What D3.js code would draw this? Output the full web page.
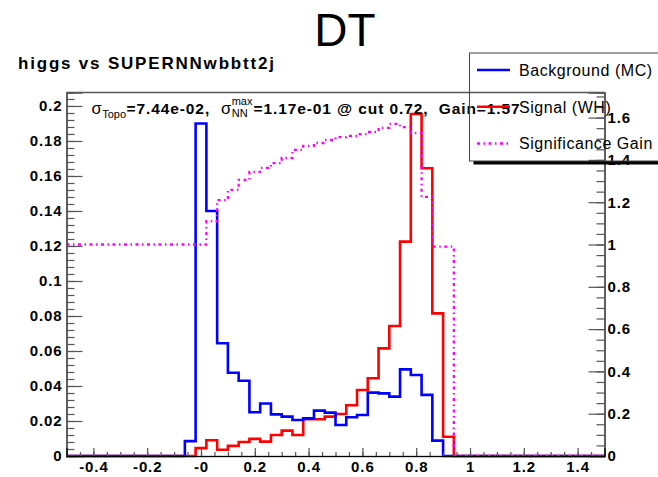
<!DOCTYPE html>
<html>
<head>
<meta charset="utf-8">
<script src="https://cdn.jsdelivr.net/npm/d3@7/dist/d3.min.js"></script>
<style>
  html, body { margin: 0; padding: 0; background: #fff; }
  svg { display: block; }
  text { font-family: "Liberation Sans", Arial, Helvetica, sans-serif; }
</style>
</head>
<body>
<svg id="chart" width="658" height="477"></svg>
<script>
// ---- histogram binning: 50 bins of 0.04 on [-0.5, 1.5] ----
const binStart = -0.5;
const binWidth = 0.04;

// Background (MC), normalised, one value per bin
const backgroundValues = [
  0, 0, 0, 0, 0, 0, 0, 0, 0, 0,
  0, 0.0085, 0.190, 0.140, 0.0644, 0.0476, 0.043, 0.025, 0.030, 0.0238,
  0.0225, 0.0206, 0.0215, 0.0259, 0.0248, 0.0177, 0.0221, 0.0234, 0.0362, 0.0358,
  0.0339, 0.0495, 0.0463, 0.0349, 0.0088, 0, 0, 0, 0, 0,
  0, 0, 0, 0, 0, 0, 0, 0, 0, 0
];

// Signal (WH), normalised, one value per bin
const signalValues = [
  0, 0, 0, 0, 0, 0, 0, 0, 0, 0,
  0, 0, 0.0045, 0.009, 0.0036, 0.0058, 0.008, 0.0098, 0.0082, 0.012,
  0.0145, 0.012, 0.021, 0.021, 0.0225, 0.024, 0.029, 0.0377, 0.0444, 0.0615,
  0.0743, 0.1225, 0.1954, 0.1644, 0.0815, 0.011, 0, 0, 0, 0,
  0, 0, 0, 0, 0, 0, 0, 0, 0, 0
];

// Significance gain per cut position (right axis)
const gainValues = [
  1, 1, 1, 1, 1, 1, 1, 1, 1, 1,
  1, 1, 1.0, 1.11, 1.21, 1.258, 1.305, 1.343, 1.362, 1.385,
  1.409, 1.447, 1.466, 1.48, 1.494, 1.508, 1.513, 1.522, 1.532, 1.551,
  1.57, 1.555, 1.527, 1.225, 0.99, 0.99, 0, 0, 0, 0,
  0, 0, 0, 0, 0, 0, 0, 0, 0, 0
];

// Axis ticks and labels
const xTickValues = [-0.4, -0.2, 0, 0.2, 0.4, 0.6, 0.8, 1.0, 1.2, 1.4];
const xTickLabels = ["-0.4", "-0.2", "-0", "0.2", "0.4", "0.6", "0.8", "1", "1.2", "1.4"];
const yTickValues = [0, 0.02, 0.04, 0.06, 0.08, 0.1, 0.12, 0.14, 0.16, 0.18, 0.2];
const yTickLabels = ["0", "0.02", "0.04", "0.06", "0.08", "0.1", "0.12", "0.14", "0.16", "0.18", "0.2"];
const y2TickValues = [0, 0.2, 0.4, 0.6, 0.8, 1.0, 1.2, 1.4, 1.6];
const y2TickLabels = ["0", "0.2", "0.4", "0.6", "0.8", "1", "1.2", "1.4", "1.6"];

const legendLabels = ["Background (MC)", "Signal (WH)", "Significance Gain"];

// ---- layout ----
const svg = d3.select("#chart");
const frame = { left: 66.5, right: 604.5, top: 92.5, bottom: 456 };

const x = d3.scaleLinear().domain([-0.5, 1.5]).range([frame.left, frame.right]);
const y = d3.scaleLinear().domain([0, 0.2077]).range([frame.bottom, frame.top]);
const y2 = d3.scaleLinear().domain([0, 1.7187]).range([frame.bottom, frame.top]);

const axisColor = "#555";
const colors = { bkg: "#0000ff", sig: "#ff0000", gain: "#ff00ff" };
const gainDash = "3,3.5,1.5,3.5";

// ---- titles ----
svg.append("text")
  .attr("x", 345).attr("y", 46)
  .attr("text-anchor", "middle")
  .attr("font-size", 46)
  .text("DT");

svg.append("text")
  .attr("x", 18).attr("y", 69)
  .attr("font-size", 17).attr("font-weight", "bold")
  .attr("letter-spacing", 1.8)
  .text("higgs vs SUPERNNwbbtt2j");

// ---- frame ----
svg.append("line")
  .attr("x1", frame.left).attr("x2", frame.right)
  .attr("y1", frame.top).attr("y2", frame.top)
  .attr("stroke", axisColor).attr("stroke-width", 1.5);

// ---- histogram outlines ----
function stepPoints(values) {
  const pts = [];
  values.forEach((v, i) => {
    const x0 = binStart + i * binWidth;
    pts.push([x0, v], [x0 + binWidth, v]);
  });
  return pts;
}

const lineY = d3.line().x(d => x(d[0])).y(d => y(d[1]));
const lineY2 = d3.line().x(d => x(d[0])).y(d => y2(d[1]));

const plot = svg.append("g");

plot.append("path")
  .attr("d", lineY(stepPoints(signalValues)))
  .attr("fill", "none").attr("stroke", colors.sig)
  .attr("stroke-width", 2.6).attr("stroke-linejoin", "miter");

plot.append("path")
  .attr("d", lineY(stepPoints(backgroundValues)))
  .attr("fill", "none").attr("stroke", colors.bkg)
  .attr("stroke-width", 2.6).attr("stroke-linejoin", "miter");

plot.append("path")
  .attr("d", lineY2(stepPoints(gainValues)))
  .attr("fill", "none").attr("stroke", colors.gain)
  .attr("stroke-width", 2.3).attr("stroke-dasharray", gainDash);

// ---- axes ----
function styleAxis(g) {
  g.select(".domain").attr("stroke", axisColor).attr("stroke-width", 1.5);
  g.selectAll(".tick line").attr("stroke", axisColor).attr("stroke-width", 1.2);
  g.selectAll(".tick text")
    .attr("fill", "#000")
    .attr("font-family", "Liberation Sans, Arial, sans-serif")
    .attr("font-weight", "bold")
    .attr("font-size", 15)
    .attr("letter-spacing", 0.9);
}

// minor ticks first, majors over them
svg.append("g")
  .attr("transform", `translate(${frame.left},0)`)
  .call(d3.axisLeft(y).tickValues(d3.range(0, 0.2077, 0.004)).tickSize(-8).tickFormat(""))
  .call(styleAxis);
svg.append("g")
  .attr("transform", `translate(${frame.left},0)`)
  .call(d3.axisLeft(y).tickValues(yTickValues).tickSize(-16).tickPadding(4)
    .tickFormat((d, i) => yTickLabels[i]))
  .call(styleAxis);

svg.append("g")
  .attr("transform", `translate(${frame.right},0)`)
  .call(d3.axisRight(y2).tickValues(d3.range(0, 1.7187, 0.05)).tickSize(-8).tickFormat(""))
  .call(styleAxis);
svg.append("g")
  .attr("transform", `translate(${frame.right},0)`)
  .call(d3.axisRight(y2).tickValues(y2TickValues).tickSize(-16).tickPadding(3)
    .tickFormat((d, i) => y2TickLabels[i]))
  .call(styleAxis);

svg.append("g")
  .attr("transform", `translate(0,${frame.bottom})`)
  .call(d3.axisBottom(x).tickValues(d3.range(-0.5, 1.5001, 0.05)).tickSize(-4).tickFormat(""))
  .call(styleAxis);
svg.append("g")
  .attr("transform", `translate(0,${frame.bottom})`)
  .call(d3.axisBottom(x).tickValues(xTickValues).tickSize(-8).tickPadding(5)
    .tickFormat((d, i) => xTickLabels[i]))
  .call(styleAxis)
  .call(g => g.select(".domain").attr("stroke", "#000").attr("stroke-width", 1.2));

// ---- annotation with sub/superscripts ----
const ann = svg.append("g");
let cursor = 91.5;
const base = 114;
const runs = [
  { t: "σ", size: 16.5, weight: "normal", dy: 0 },
  { t: "Topo", size: 11, weight: "normal", dy: 4 },
  { t: "=7.44e-02,  ", size: 15.5, weight: "bold", dy: 0, ls: 0.9 },
  { t: "σ", size: 16.5, weight: "normal", dy: 0 },
  { stack: [{ t: "max", dy: -9 }, { t: "NN", dy: 3 }], size: 11, weight: "normal" },
  { t: "=1.17e-01 @ cut 0.72,  Gain=1.57", size: 15.5, weight: "bold", dy: 0, ls: 0.9 }
];
runs.forEach(r => {
  if (r.stack) {
    let w = 0;
    r.stack.forEach(s => {
      const el = ann.append("text")
        .attr("x", cursor).attr("y", base + s.dy)
        .attr("font-size", r.size).attr("font-weight", r.weight)
        .text(s.t);
      w = Math.max(w, el.node().getComputedTextLength());
    });
    cursor += w + 1;
  } else {
    const el = ann.append("text")
      .attr("x", cursor).attr("y", base + r.dy)
      .attr("font-size", r.size).attr("font-weight", r.weight)
      .attr("letter-spacing", r.ls || 0)
      .style("white-space", "pre")
      .text(r.t);
    cursor += el.node().getComputedTextLength() + 0.5;
  }
});

// ---- legend (hollow box with drop shadow) ----
const leg = { x: 469.5, y: 53, w: 190, h: 108 };
svg.append("rect")
  .attr("x", leg.x + 4).attr("y", leg.y + leg.h)
  .attr("width", leg.w).attr("height", 3.5)
  .attr("fill", "#000");
svg.append("rect")
  .attr("x", leg.x).attr("y", leg.y)
  .attr("width", leg.w).attr("height", leg.h)
  .attr("fill", "none").attr("stroke", "#444").attr("stroke-width", 1);

const legendRows = [
  { color: colors.bkg, dash: null, w: 2.6 },
  { color: colors.sig, dash: null, w: 2.6 },
  { color: colors.gain, dash: gainDash, w: 2.3 }
];
const rowY = d3.scalePoint().domain(d3.range(3)).range([70, 143.5]);
legendRows.forEach((r, i) => {
  svg.append("line")
    .attr("x1", 477).attr("x2", 510)
    .attr("y1", rowY(i)).attr("y2", rowY(i))
    .attr("stroke", r.color).attr("stroke-width", r.w)
    .attr("stroke-dasharray", r.dash);
  svg.append("text")
    .attr("x", 519).attr("y", rowY(i) + 5.8)
    .attr("font-size", 16).attr("letter-spacing", 0.55)
    .text(legendLabels[i]);
});
</script>
</body>
</html>
